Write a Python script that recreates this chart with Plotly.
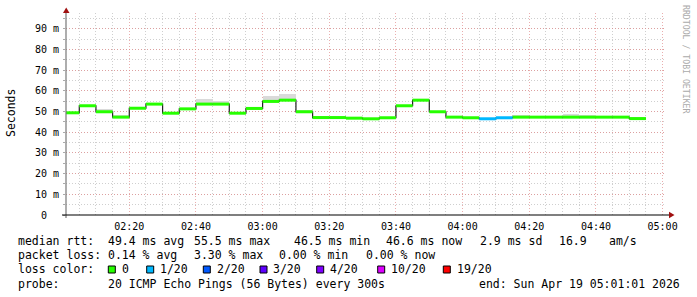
import plotly.graph_objects as go
import pandas as pd

# ---------------- data ----------------
seg_start = pd.date_range("2026-04-19 02:00", "2026-04-19 04:50", freq="5min")
median_ms = [49.4, 52.8, 49.9, 47.3, 51.6, 53.6, 49.2, 51.3, 53.6, 53.6,
             49.2, 51.5, 54.9, 55.5, 49.9, 47.1, 47.1, 46.8, 46.5, 47.0,
             52.8, 55.5, 49.9, 47.3, 47.0, 46.5, 47.0, 47.3, 47.3, 47.3,
             47.3, 47.3, 47.3, 47.3, 46.6]
smoke_top = [49.9, 53.3, 51.0, 48.3, 52.0, 54.1, 49.8, 51.8, 56.3, 55.2,
             50.0, 52.0, 57.3, 58.3, 50.9, 47.9, 47.6, 47.3, 47.0, 47.5,
             53.3, 56.0, 50.4, 47.8, 47.5, 47.0, 47.5, 48.1, 47.8, 47.8,
             48.6, 48.3, 47.8, 47.8, 47.2]
loss_count = [0] * 25 + [1, 1] + [0] * 8

loss_levels = [0, 1, 2, 3, 4, 10, 19]
loss_labels = ["0", "1/20", "2/20", "3/20", "4/20", "10/20", "19/20"]
loss_colors = ["#26ff00", "#00b8ff", "#0059ff", "#5e00ff", "#7e00ff", "#dd00ff", "#ff0000"]

y_ticks = [0, 10, 20, 30, 40, 50, 60, 70, 80, 90]
y_ticktext = ["0\u00a0\u00a0"] + [f"{v} m" for v in y_ticks[1:]]

legend_rows = [
    [("median rtt:", 16.7), ("49.4 ms avg", 107.3), ("55.5 ms max", 193.3),
     ("46.5 ms min", 293.3), ("46.6 ms now", 385.0), ("2.9 ms sd", 479.3),
     ("16.9", 558.3), ("am/s", 608.3)],
    [("packet loss:", 16.7), ("0.14 % avg", 107.3), ("3.30 % max", 193.3),
     ("0.00 % min", 278.3), ("0.00 % now", 365.0)],
    [("loss color:", 16.7)],
    [("probe:", 16.7), ("20 ICMP Echo Pings (56 Bytes) every 300s", 107.3),
     ("end: Sun Apr 19 05:01:01 2026", 478.3)],
]
swatch_x = [108.3, 146.7, 203.3, 260.0, 316.7, 377.7, 443.3]

# ---------------- layout geometry ----------------
W, H = 697, 297
L, R, T, B = 66, 31, 13, 82
PW, PH = W - L - R, H - T - B
MONO = "DejaVu Sans Mono"
MAJOR = "rgba(225,140,140,0.7)"
MINOR = "rgba(175,175,175,0.6)"


def px(x):
    return (x - L) / PW


def py(y):
    return (H - B - y) / PH


step = pd.Timedelta(minutes=5)
seg_end = seg_start + step
seg_mid = seg_start + step / 2

fig = go.Figure()

# smoke
fig.add_trace(go.Bar(
    x=seg_mid, y=[t - m + 0.6 for t, m in zip(smoke_top, median_ms)],
    base=[m - 0.6 for m in median_ms], width=300000,
    marker=dict(color="#dadada", line=dict(width=0)), hoverinfo="skip",
    showlegend=False))

# dark median step line
fig.add_trace(go.Scatter(
    x=list(seg_start) + [seg_end[-1]], y=median_ms + [median_ms[-1]],
    mode="lines", line=dict(color="#202020", width=1.2, shape="hv"),
    hoverinfo="skip", showlegend=False))

# loss coloured median bands
for lv, col in zip(loss_levels, loss_colors):
    xs, ys = [], []
    for s, e, m, lc in zip(seg_start, seg_end, median_ms, loss_count):
        if lc == lv:
            xs += [s, e, None]
            ys += [m, m, None]
    if xs:
        fig.add_trace(go.Scatter(x=xs, y=ys, mode="lines",
                                 line=dict(color=col, width=3),
                                 hoverinfo="skip", showlegend=False))

fig.update_layout(
    width=W, height=H, margin=dict(l=L, r=R, t=T, b=B),
    paper_bgcolor="white", plot_bgcolor="white",
    barmode="overlay", bargap=0, showlegend=False,
    font=dict(family=MONO, size=10, color="#000000"),
)

fig.update_xaxes(
    range=["2026-04-19 02:01:01", "2026-04-19 05:01:01"],
    type="date", tick0="2026-04-19 02:00", dtick=20 * 60000,
    tickformat="%H:%M", tickfont=dict(family=MONO, size=10, color="#000"),
    showgrid=True, gridcolor=MAJOR, griddash="1px,2px", gridwidth=1,
    minor=dict(dtick=5 * 60000, tick0="2026-04-19 02:00", showgrid=True,
               gridcolor=MINOR, griddash="1px,2px", gridwidth=1),
    showline=False, zeroline=False, ticks="", ticklabelstandoff=4,
)
fig.update_yaxes(
    range=[0, PH / 2.069], tickvals=y_ticks, ticktext=y_ticktext,
    tickfont=dict(family=MONO, size=10, color="#000"),
    showgrid=True, gridcolor=MAJOR, griddash="1px,2px", gridwidth=1,
    minor=dict(dtick=5, showgrid=True, gridcolor=MINOR,
               griddash="1px,2px", gridwidth=1, ticks="outside", ticklen=2,
               tickcolor="#aaaaaa"),
    ticks="outside", ticklen=2, tickcolor="#aaaaaa",
    showline=False, zeroline=False, ticklabelstandoff=2,
)

shapes = []
# y axis line + arrow
shapes.append(dict(type="line", xref="paper", yref="paper",
                   x0=px(66), x1=px(66), y0=py(218), y1=py(12),
                   line=dict(color="#777777", width=1.2)))
shapes.append(dict(type="path", xref="paper", yref="paper",
                   path=f"M {px(63)} {py(13)} L {px(69.5)} {py(13)} L {px(66.2)} {py(7.5)} Z",
                   fillcolor="#a01010", line=dict(width=0)))
# x axis line + arrow
shapes.append(dict(type="line", xref="paper", yref="paper",
                   x0=px(62), x1=px(670), y0=py(215), y1=py(215),
                   line=dict(color="#000000", width=1.2)))
shapes.append(dict(type="path", xref="paper", yref="paper",
                   path=f"M {px(669)} {py(211.8)} L {px(669)} {py(218.2)} L {px(674.5)} {py(215)} Z",
                   fillcolor="#a01010", line=dict(width=0)))
# loss colour swatches
for sx, col in zip(swatch_x, loss_colors):
    shapes.append(dict(type="rect", xref="paper", yref="paper",
                       x0=px(sx), x1=px(sx + 7), y0=py(273), y1=py(266),
                       fillcolor=col, line=dict(color="#000000", width=1)))
fig.update_layout(shapes=shapes)

ann = []
ann.append(dict(text="Seconds", x=px(11), y=py(113), xref="paper", yref="paper",
                textangle=-90, showarrow=False, xanchor="center", yanchor="middle",
                font=dict(family=MONO, size=11.5, color="#000")))
ann.append(dict(text="RRDTOOL / TOBI OETIKER", x=px(686), y=py(59), xref="paper",
                yref="paper", textangle=90, showarrow=False, xanchor="center",
                yanchor="middle", font=dict(family=MONO, size=8.2, color="#aaaaaa")))
row_y = [241.0, 255.3, 269.3, 283.7]
for row, yy in zip(legend_rows, row_y):
    for txt, xx in row:
        ann.append(dict(text=txt, x=px(xx), y=py(yy), xref="paper", yref="paper",
                        showarrow=False, xanchor="left", yanchor="middle",
                        font=dict(family=MONO, size=11.5, color="#000")))
for sx, lab in zip(swatch_x, loss_labels):
    ann.append(dict(text=lab, x=px(sx + 12.3), y=py(269.3), xref="paper", yref="paper",
                    showarrow=False, xanchor="left", yanchor="middle",
                    font=dict(family=MONO, size=11.5, color="#000")))
for a in ann:
    a["borderpad"] = 0
fig.update_layout(annotations=ann)

fig.write_html("out.html")
